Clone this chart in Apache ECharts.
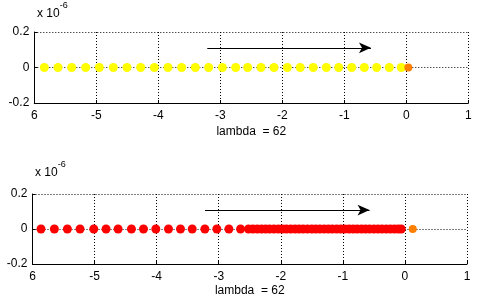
<!DOCTYPE html>
<html>
<head>
<meta charset="utf-8">
<script src="https://cdn.jsdelivr.net/npm/echarts@6/dist/echarts.min.js"></script>
<style>html,body{margin:0;padding:0;background:#fff;}#c{width:490px;height:306px;}</style>
</head>
<body>
<div id="c"></div>
<script>
var xTickLabels = ['6', '-5', '-4', '-3', '-2', '-1', '0', '1'];
var yTickLabels = ['-0.2', '0', '0.2'];
var xLabel = 'lambda  = 62';
var topYellow = [-5.838,-5.618,-5.397,-5.171,-4.951,-4.725,-4.505,-4.284,-4.064,-3.844,-3.623,-3.403,-3.188,-2.967,-2.752,-2.559,-2.344,-2.134,-1.919,-1.710,-1.500,-1.290,-1.091,-0.881,-0.677,-0.478,-0.274,-0.081];
var topOrange = [0.033];
var bottomRed = [-5.863,-5.648,-5.438,-5.234,-5.013,-4.815,-4.621,-4.406,-4.212,-4.013,-3.809,-3.616,-3.427,-3.223,-3.030,-2.836,-2.648,
  -2.52,-2.45,-2.38,-2.31,-2.245,-2.18,-2.11,-2.04,-1.975,-1.91,-1.84,-1.77,-1.705,-1.64,-1.57,-1.50,-1.435,-1.37,-1.30,-1.235,-1.17,-1.10,-1.035,-0.97,-0.90,-0.835,-0.77,-0.70,-0.635,-0.57,-0.50,-0.435,-0.37,-0.30,-0.235,-0.17,-0.11,-0.06];
var bottomOrange = [0.126];
var topArrow = [[-3.21, 0.111], [-0.57, 0.111]];
var bottomArrow = [[-3.22, 0.108], [-0.57, 0.108]];

var FONT = 'Liberation Sans, Arial, sans-serif';
function pts(arr) { return arr.map(function (v) { return [v, 0]; }); }

function xAxis(i, gap) {
  return {
    gridIndex: i, type: 'value', min: -6, max: 1, interval: 1,
    name: xLabel, nameLocation: 'middle', nameGap: gap,
    nameTextStyle: {color: '#000', fontFamily: FONT, fontSize: 12},
    axisLine: {show: true, onZero: false, lineStyle: {color: '#000', width: 1}},
    axisTick: {show: true, inside: true, length: 3, lineStyle: {color: '#000'}},
    axisLabel: {color: '#000', fontFamily: FONT, fontSize: 12, margin: 7,
      formatter: function (v) { return xTickLabels[Math.round(v + 6)]; }},
    splitLine: {show: true, lineStyle: {color: '#000', type: [1, 2], width: 1}}
  };
}
function yAxis(i) {
  return {
    gridIndex: i, type: 'value', min: -0.2, max: 0.2, interval: 0.2,
    axisLine: {show: true, onZero: false, lineStyle: {color: '#000', width: 1}},
    axisTick: {show: true, inside: true, length: 3, lineStyle: {color: '#000'}},
    axisLabel: {color: '#000', fontFamily: FONT, fontSize: 12, margin: 5,
      formatter: function (v) { return yTickLabels[Math.round(v / 0.2) + 1]; }},
    splitLine: {show: true, lineStyle: {color: '#000', type: [1, 2], width: 1}}
  };
}
function arrowLine(xi, coords) {
  return {
    type: 'line', xAxisIndex: xi, yAxisIndex: xi, data: [], silent: true,
    markLine: {
      silent: true, symbol: ['none', 'arrow'], symbolSize: [8, 12],
      label: {show: false},
      lineStyle: {color: '#000', width: 1, type: 'solid'},
      data: [[{coord: coords[0]}, {coord: coords[1]}]],
      animation: false
    }
  };
}
var expRich = {
  a: {fontFamily: FONT, fontSize: 12, fill: '#000', padding: [7, 0, 0, 0]},
  b: {fontFamily: FONT, fontSize: 9, fill: '#000', verticalAlign: 'top', padding: [0, 0, 7, 0]}
};
var chart = echarts.init(document.getElementById('c'), null, {renderer: 'canvas'});
chart.setOption({
  animation: false,
  backgroundColor: '#fff',
  grid: [
    {left: 34.3, right: 21.7, top: 32, height: 71},
    {left: 32.5, right: 23, top: 194, height: 70}
  ],
  xAxis: [xAxis(0, 23), xAxis(1, 21)],
  yAxis: [yAxis(0), yAxis(1)],
  graphic: [
    {type: 'text', left: 37, top: 1, style: {text: '{a|x 10}{b|-6}', rich: expRich}},
    {type: 'text', left: 35, top: 160, style: {text: '{a|x 10}{b|-6}', rich: expRich}}
  ],
  series: [
    {type: 'scatter', xAxisIndex: 0, yAxisIndex: 0, data: pts(topYellow), symbolSize: 9,
      itemStyle: {color: '#ffff00', opacity: 1}, z: 3},
    {type: 'scatter', xAxisIndex: 0, yAxisIndex: 0, data: pts(topOrange), symbolSize: 8,
      itemStyle: {color: '#ff8000', opacity: 1}, z: 4},
    {type: 'scatter', xAxisIndex: 1, yAxisIndex: 1, data: pts(bottomRed), symbolSize: 9,
      itemStyle: {color: '#ff0000', opacity: 1}, z: 3},
    {type: 'scatter', xAxisIndex: 1, yAxisIndex: 1, data: pts(bottomOrange), symbolSize: 8,
      itemStyle: {color: '#ff8000', opacity: 1}, z: 4},
    arrowLine(0, topArrow),
    arrowLine(1, bottomArrow)
  ]
});
</script>
</body>
</html>
